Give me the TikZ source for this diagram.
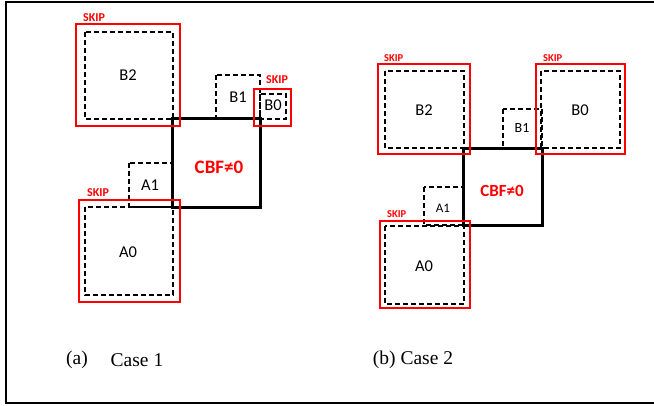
\documentclass[tikz,border=0pt]{standalone}
\usepackage{fontspec}
\setmainfont{Liberation Serif}
\newfontfamily\lblfont{Carlito}
\tikzset{
  skipbox/.style={draw=red,line width=2.4pt},
  blkbox/.style={draw=black,line width=1.7pt,dash pattern=on 5pt off 3pt},
  cbfbox/.style={draw=black,line width=3pt},
  lbl/.style={font=\lblfont\fontsize{16.5}{19}\selectfont,inner sep=0pt},
  skiplbl/.style={font=\lblfont\bfseries\fontsize{12}{14}\selectfont,text=red,inner sep=0pt,anchor=base west},
  cbflbl/.style={font=\lblfont\bfseries\fontsize{19}{22}\selectfont,text=red,inner sep=0pt},
  caption/.style={font=\fontsize{19.5}{23}\selectfont,inner sep=0pt}
}
\begin{document}
\begin{tikzpicture}[x=1pt,y=-1pt]
\useasboundingbox (0,0) rectangle (654,405);
\draw[line width=2pt] (660,2) -- (6,2) -- (6,403) -- (660,403);
\draw[blkbox] (85,32) rectangle (173,119);
\draw[blkbox] (216,75) rectangle (260,118);
\draw[blkbox] (260,94) rectangle (286,119);
\draw[blkbox] (129,163) rectangle (172,207);
\draw[blkbox] (85,207) rectangle (173,295);
\draw[cbfbox] (172,118) rectangle (260,207);
\draw[skipbox] (76,24) rectangle (180,126);
\draw[skipbox] (254,89) rectangle (291,126);
\draw[skipbox] (79,200) rectangle (180,302);
\node[lbl] (b2a) at (128,75) {B2};
\node[lbl] (b1a) at (238,97) {B1};
\node[lbl] (b0a) at (273,105) {B0};
\node[lbl] (a1a) at (150,185) {A1};
\node[lbl] (a0a) at (128,252) {A0};
\node[cbflbl] (cbfa) at (219,167) {CBF≠0};
\node[skiplbl] (skb2a) at (83,21) {SKIP};
\node[skiplbl] (skb0a) at (266,83) {SKIP};
\node[skiplbl] (ska0a) at (87,196) {SKIP};
\draw[blkbox] (385,71) rectangle (464,148);
\draw[blkbox] (503,109) rectangle (542,148);
\draw[blkbox] (541,71) rectangle (620,148);
\draw[blkbox] (424,187) rectangle (463,225);
\draw[blkbox] (385,226) rectangle (464,304);
\draw[cbfbox] (463,148) rectangle (542,225);
\draw[skipbox] (378,64) rectangle (470,154);
\draw[skipbox] (536,64) rectangle (625,154);
\draw[skipbox] (380,221) rectangle (470,308);
\node[lbl] (b2b) at (424,110) {B2};
\node[lbl,font=\lblfont\fontsize{14}{17}\selectfont] (b1b) at (522,128) {B1};
\node[lbl] (b0b) at (580,110) {B0};
\node[lbl,font=\lblfont\fontsize{13}{16}\selectfont] (a1b) at (443,208) {A1};
\node[lbl] (a0b) at (424,266) {A0};
\node[cbflbl,font=\lblfont\bfseries\fontsize{17}{20}\selectfont] (cbfb) at (502,191) {CBF≠0};
\node[skiplbl,font=\lblfont\bfseries\fontsize{10.5}{12}\selectfont] (skb2b) at (384,61) {SKIP};
\node[skiplbl,font=\lblfont\bfseries\fontsize{10.5}{12}\selectfont] (skb0b) at (543,61) {SKIP};
\node[skiplbl,font=\lblfont\bfseries\fontsize{10.5}{12}\selectfont] (ska0b) at (387,217) {SKIP};
\node[caption] (capa) at (77,360) {(a)};
\node[caption] (case1) at (137,360) {Case 1};
\node[caption] (capb) at (413,360) {(b) Case 2};
\end{tikzpicture}
\end{document}
